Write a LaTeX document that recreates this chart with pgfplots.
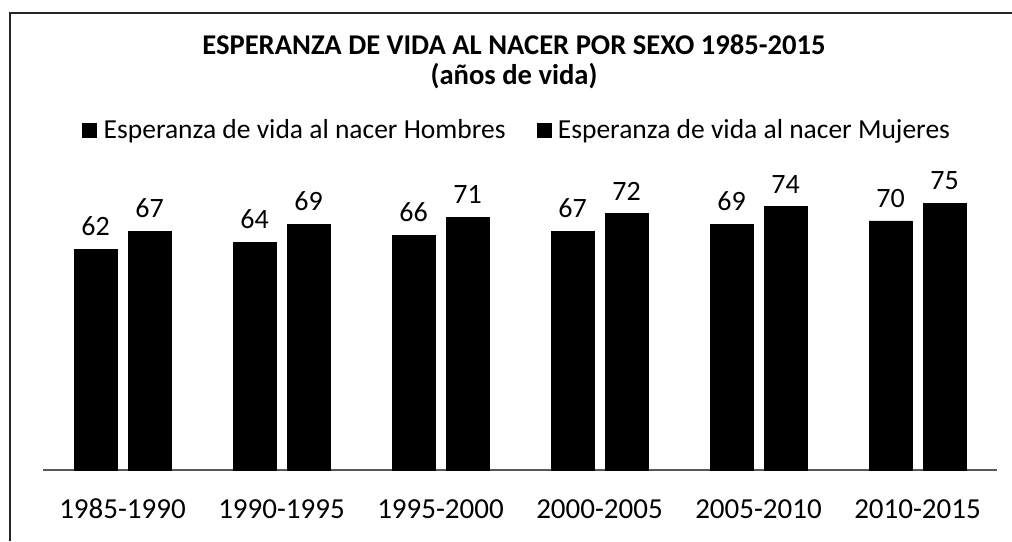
\documentclass[border=0pt]{standalone}
\usepackage{fontspec}
\setmainfont{Carlito}
\usepackage{pgfplots}
\pgfplotsset{compat=1.18}
\begin{document}
\begin{tikzpicture}
\path[use as bounding box] (0pt,0pt) rectangle (1012pt,541pt);
\draw[line width=2pt, black!85] (10pt,0pt) -- (10pt,528pt) -- (1012pt,528pt);
\node[font=\fontsize{28.6}{34}\selectfont\bfseries] at (514pt,496pt) {ESPERANZA DE VIDA AL NACER POR SEXO 1985-2015};
\node[font=\fontsize{28.6}{34}\selectfont\bfseries] at (514pt,465pt) {(años de vida)};
\begin{axis}[
 at={(43pt,71pt)}, anchor=south west,
 scale only axis, width=954pt, height=284.8pt,
 xmin=-0.5, xmax=5.5, ymin=0, ymax=80,
 ybar=11pt, bar width=43pt,
 axis x line*=bottom, axis y line=none,
 x axis line style={line width=1.8pt, black!65, -},
 xtick=data,
 xticklabels={1985-1990,1990-1995,1995-2000,2000-2005,2005-2010,2010-2015},
 major tick length=0pt,
 xticklabel style={font=\fontsize{29}{34}\selectfont, anchor=base, yshift=-48pt},
 nodes near coords,
 nodes near coords style={font=\fontsize{28}{33}\selectfont, yshift=10pt, black},
 /pgf/number format/assume math mode=true,
 legend style={at={(0.497,1.194)}, anchor=center, draw=none, fill=none, legend columns=2,
   font=\fontsize{27.5}{32}\selectfont,
   /tikz/every odd column/.append style={column sep=5pt},
   /tikz/every even column/.append style={column sep=29pt}},
]
\addplot[fill=black, draw=black, legend image code/.code={\fill[black] (0pt,-7pt) rectangle (14pt,7pt);}]
 coordinates {(0,62) (1,64) (2,66) (3,67) (4,69) (5,70)};
\addplot[fill=black, draw=black, legend image code/.code={\fill[black] (0pt,-7pt) rectangle (14pt,7pt);}]
 coordinates {(0,67) (1,69) (2,71) (3,72) (4,74) (5,75)};
\legend{Esperanza de vida al nacer Hombres, Esperanza de vida al nacer Mujeres}
\end{axis}
\end{tikzpicture}
\end{document}
